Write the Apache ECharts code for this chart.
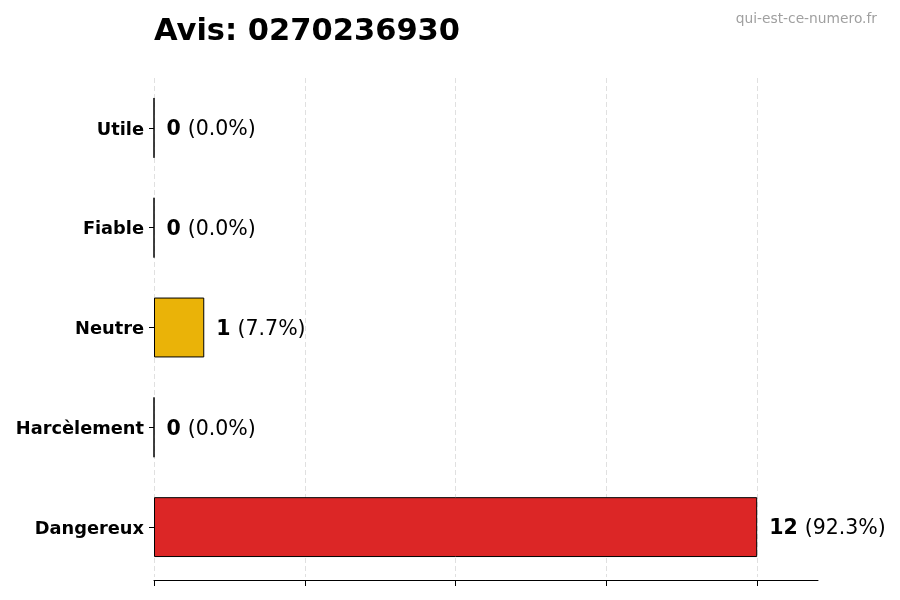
<!DOCTYPE html>
<html>
<head>
<meta charset="utf-8">
<script src="https://cdn.jsdelivr.net/npm/echarts@6/dist/echarts.min.js"></script>
<style>
html, body { margin: 0; padding: 0; background: #fff; }
#main { width: 900px; height: 600px; }
</style>
</head>
<body>
<div id="main"></div>
<script>
var categories = ['Dangereux', 'Harcèlement', 'Neutre', 'Fiable', 'Utile'];
var counts = [12, 0, 1, 0, 0];
var barColors = ['#DC2626', '#7F1D1D', '#EAB308', '#16A34A', '#2563EB'];
var tickValues = [0, 3, 6, 9, 12];
var phone = '0270236930';

var total = counts.reduce(function (a, b) { return a + b; }, 0);
var font = 'DejaVu Sans';

var chart = echarts.init(document.getElementById('main'));

var seriesData = counts.map(function (v, i) {
    return {
        value: v,
        itemStyle: { color: barColors[i] }
    };
});

var option = {
    backgroundColor: '#ffffff',
    animation: false,
    title: [{
        text: 'Avis: ' + phone,
        left: 149,
        top: 12,
        textStyle: { fontFamily: font, fontSize: 30.5, fontWeight: 'bold', color: '#000' }
    }, {
        text: 'qui-est-ce-numero.fr',
        right: 18,
        top: 7,
        textStyle: { fontFamily: font, fontSize: 13.8, fontWeight: 'normal', color: '#a0a0a0' }
    }],
    grid: { left: 154, right: 82, top: 78, bottom: 23, containLabel: false },
    xAxis: {
        type: 'value',
        min: 0,
        max: 13.21,
        offset: 3,
        axisLine: { show: true, lineStyle: { color: '#000', width: 1 } },
        axisTick: { show: true, length: 6, customValues: tickValues, lineStyle: { color: '#000' } },
        axisLabel: { show: false, customValues: tickValues },
        splitLine: { show: true, showMaxLine: true, lineStyle: { color: '#d8d8d8', type: [5, 3], width: 0.8 } }
    },
    yAxis: {
        type: 'category',
        data: categories,
        axisLine: { show: false },
        axisTick: { show: true, length: 5, alignWithLabel: true, lineStyle: { color: '#000' } },
        axisLabel: {
            margin: 10,
            formatter: function (v) { return '{c|' + v + '}'; },
            rich: {
                c: { fontFamily: font, fontSize: 17.8, fontWeight: 'bold', color: '#000', padding: [4, 0, 0, 0] }
            }
        }
    },
    series: [{
        type: 'bar',
        data: seriesData,
        barWidth: '60%',
        itemStyle: { borderColor: '#000', borderWidth: 1 },
        label: {
            show: true,
            position: 'right',
            distance: 12,
            fontFamily: font,
            padding: [4, 0, 0, 0],
            formatter: function (p) {
                var pct = total ? (p.value / total * 100).toFixed(1) : '0.0';
                return '{b|' + p.value + '}{n|(' + pct + '%)}';
            },
            rich: {
                b: { fontFamily: font, fontSize: 20.5, fontWeight: 'bold', color: '#000', padding: [0, 7, 0, 0] },
                n: { fontFamily: font, fontSize: 20.5, color: '#000' }
            }
        }
    }]
};

chart.setOption(option);
</script>
</body>
</html>
